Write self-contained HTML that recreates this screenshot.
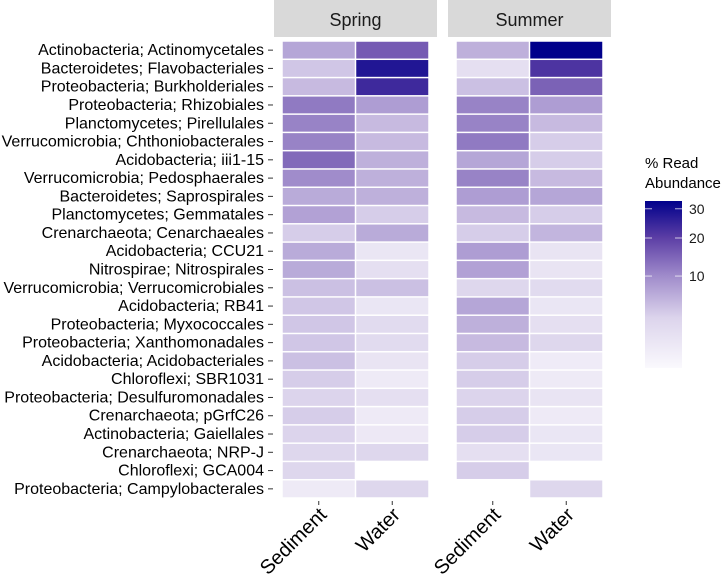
<!DOCTYPE html>
<html><head><meta charset="utf-8"><style>
html,body{margin:0;padding:0;background:#fff}
svg{display:block;font-family:"Liberation Sans",Arial,sans-serif}
</style></head><body>
<svg id="chart" width="727" height="583" viewBox="0 0 727 583" xmlns="http://www.w3.org/2000/svg">
<defs>
<linearGradient id="lg" x1="0" y1="1" x2="0" y2="0">
<stop offset="0" stop-color="#FAF9FD"/>
<stop offset="0.3" stop-color="#DCD4EC"/>
<stop offset="0.55" stop-color="#A08CCB"/>
<stop offset="0.78" stop-color="#5C3EA5"/>
<stop offset="1" stop-color="#00008B"/>
</linearGradient>
</defs>
<g id="plot"></g>
</svg>
<script>
const rows = ["Actinobacteria; Actinomycetales","Bacteroidetes; Flavobacteriales","Proteobacteria; Burkholderiales","Proteobacteria; Rhizobiales","Planctomycetes; Pirellulales","Verrucomicrobia; Chthoniobacterales","Acidobacteria; iii1-15","Verrucomicrobia; Pedosphaerales","Bacteroidetes; Saprospirales","Planctomycetes; Gemmatales","Crenarchaeota; Cenarchaeales","Acidobacteria; CCU21","Nitrospirae; Nitrospirales","Verrucomicrobia; Verrucomicrobiales","Acidobacteria; RB41","Proteobacteria; Myxococcales","Proteobacteria; Xanthomonadales","Acidobacteria; Acidobacteriales","Chloroflexi; SBR1031","Proteobacteria; Desulfuromonadales","Crenarchaeota; pGrfC26","Actinobacteria; Gaiellales","Crenarchaeota; NRP-J","Chloroflexi; GCA004","Proteobacteria; Campylobacterales"];
const panels = ["Spring","Summer"];
const columns = ["Sediment","Water"];
const springSediment = [7,4,5,12,11,11,14,10,6.5,7.5,3.5,6.5,6.5,4.5,4,4,4,4.5,3.5,3,3.5,3,2.5,2.5,0.5];
const springWater = [16,28,24,8,5,5,6,6,6,3.5,6.5,0.8,1.5,4.5,0.8,2,2,1,0.5,1.5,0.5,0.6,2.5,null,2.5];
const summerSediment = [6,1.5,4.5,11,11,12,7,11,8,5,3.5,8,7.5,2.5,7,6,5,3.5,3.5,3,3.5,3.5,1.5,3.5,null];
const summerWater = [33,22,15,8,5,3.5,3.5,5,7,3.5,5.5,1,1,2,0.8,1.5,2.5,0.4,0.5,1,0.5,0.8,0.8,null,2.5];
const legendTicks = [10,20,30];
const vmax = 33;

const NS="http://www.w3.org/2000/svg";
const g=document.getElementById('plot');
function mk(t,a,p){const e=document.createElementNS(NS,t);for(const k in a)e.setAttribute(k,a[k]);(p||g).appendChild(e);return e;}
const stops=[[0,[250,249,253]],[0.3,[220,212,236]],[0.55,[160,140,203]],[0.78,[92,62,165]],[1,[0,0,139]]];
function color(v){let t=Math.sqrt(Math.max(v,0))/Math.sqrt(vmax);t=Math.min(1,t);
 for(let i=1;i<stops.length;i++){if(t<=stops[i][0]){const a=stops[i-1],b=stops[i];const f=(t-a[0])/(b[0]-a[0]);
 const c=a[1].map((x,j)=>Math.round(x+(b[1][j]-x)*f));return `rgb(${c.join(',')})`;}}return 'rgb(0,0,139)';}
const plotTop=41, rowH=(498-41)/rows.length;
function yPos(i){return plotTop+i*rowH;}
const panelX=[274,448], panelW=163;
function xCol(p,c){return panelX[p]+8+c*73.5;}
const data=[[springSediment,springWater],[summerSediment,summerWater]];
panels.forEach((pn,p)=>{
 const strip=mk('rect',{x:panelX[p],y:0,width:panelW,height:37,fill:'#D9D9D9'});
 
 
 const st=mk('text',{x:panelX[p]+panelW/2,y:26,'text-anchor':'middle','font-size':18,fill:'#1a1a1a'});st.textContent=pn;
 
 
 columns.forEach((cn,c)=>{
  data[p][c].forEach((v,i)=>{ if(v===null)return;
   const r=mk('rect',{x:xCol(p,c)+0.75,y:yPos(i)+0.75,width:72,height:rowH-1.5,fill:color(v)});
   
   
  });
  const cx=xCol(p,c)+36.75;
  mk('line',{x1:cx,y1:501,x2:cx,y2:505,stroke:'#333','stroke-width':1});
  const tl=mk('text',{x:0,y:0,'text-anchor':'end','font-size':20,fill:'#000',transform:`translate(${cx+9},${516}) rotate(-45)`});
  tl.textContent=cn;
  
  
 });
});
rows.forEach((rn,i)=>{
 const cy=yPos(i)+rowH/2;
 mk('line',{x1:268,y1:cy,x2:273,y2:cy,stroke:'#333','stroke-width':1});
 const t=mk('text',{x:264,y:cy+5,'text-anchor':'end','font-size':16,fill:'#000'});t.textContent=rn;
 
 
});
const lt=mk('text',{x:645,y:168,'font-size':15,fill:'#000'});lt.textContent='% Read';


const lt2=mk('text',{x:645,y:188,'font-size':15,fill:'#000'});lt2.textContent='Abundance';


const lbTop=201, lbBot=368;
const lb=mk('rect',{x:645,y:lbTop,width:37,height:lbBot-lbTop,fill:'url(#lg)'});


function ly(v){return lbBot-(lbBot-lbTop)*Math.sqrt(v)/Math.sqrt(vmax);}
legendTicks.forEach(v=>{const y=ly(v);
 mk('line',{x1:645,y1:y,x2:652,y2:y,stroke:'#fff','stroke-width':1,opacity:0.7});
 mk('line',{x1:675,y1:y,x2:682,y2:y,stroke:'#fff','stroke-width':1,opacity:0.7});
 const t=mk('text',{x:689,y:y+5,'font-size':14,fill:'#1a1a1a'});t.textContent=v;
 
 
});
</script>
</body></html>
